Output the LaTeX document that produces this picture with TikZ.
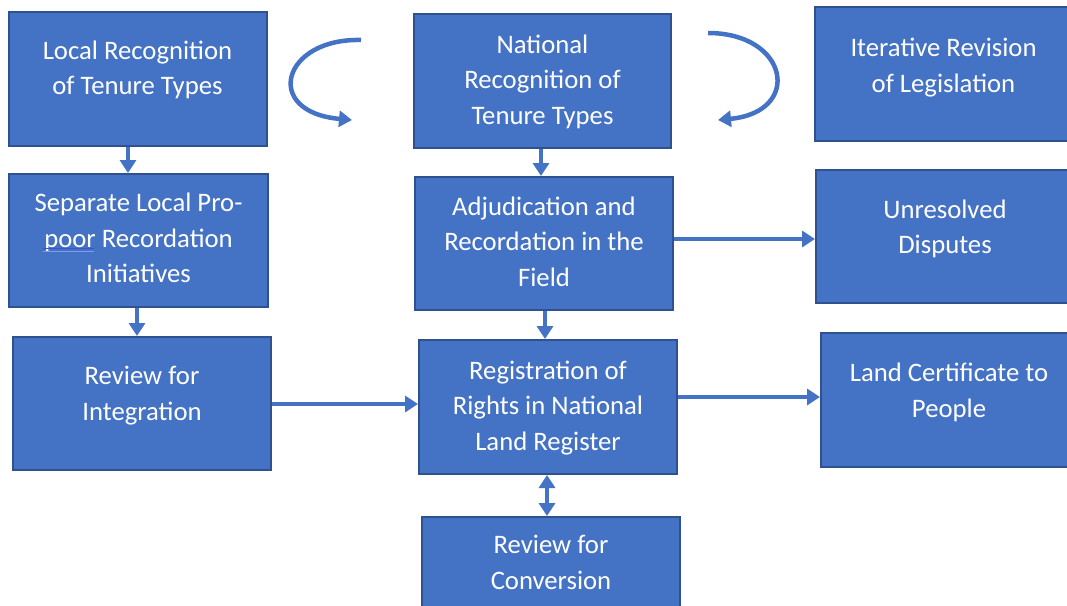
\documentclass[tikz,border=0pt]{standalone}
\usepackage{fontspec}
\setmainfont{Carlito}
\usetikzlibrary{arrows.meta}
\definecolor{boxfill}{HTML}{4472C4}
\definecolor{boxline}{HTML}{2F528F}
\definecolor{arrcol}{HTML}{4472C4}
\definecolor{squig}{HTML}{3355D6}
\tikzset{
  box/.style={rectangle, draw=boxline, line width=2pt, fill=boxfill, minimum width=258pt, minimum height=134pt, inner sep=0pt},
  txt/.style={align=center, text=white, inner sep=0pt, font=\fontsize{26.7}{35.5}\selectfont},
  arr/.style={draw=arrcol, line width=4.5pt, -{Triangle[length=13pt,width=16pt]}},
  dblarr/.style={draw=arrcol, line width=4.5pt, {Triangle[length=13pt,width=16pt]}-{Triangle[length=13pt,width=16pt]}},
}
\begin{document}
\begin{tikzpicture}[x=1pt,y=-1pt]
\useasboundingbox (0,0) rectangle (1067,605);
\fill[white] (0,0) rectangle (1067,605);
\clip (0,0) rectangle (1067,605);
% boxes
\node[box, minimum width=258pt, minimum height=134pt] (lr) at (138,79) {};
\node[box, minimum width=257pt, minimum height=134pt] (nr) at (542.5,81) {};
\node[box, minimum width=258pt, minimum height=134pt] (ir) at (944,74) {};
\node[box, minimum width=259pt, minimum height=133pt] (sl) at (138.5,240.5) {};
\node[box, minimum width=258pt, minimum height=133pt] (ad) at (544,243.5) {};
\node[box, minimum width=258pt, minimum height=133pt] (ur) at (945,236.5) {};
\node[box, minimum width=258pt, minimum height=133pt] (ri) at (142,403.5) {};
\node[box, minimum width=258pt, minimum height=134pt] (rr) at (548,407) {};
\node[box, minimum width=258pt, minimum height=134pt] (lc) at (950,400) {};
\node[box, minimum width=258pt, minimum height=134pt] (rc) at (551,584) {};
% texts (anchor = baseline of last line)
\node[txt, anchor=base] (lrt) at (137.5,94.5) {Local Recognition\\of Tenure Types};
\node[txt, anchor=base] (nrt) at (542.5,124) {National\\Recognition of\\Tenure Types};
\node[txt, anchor=base] (irt) at (943.5,92) {Iterative Revision\\of Legislation};
\node[txt, anchor=base] (slt) at (138.5,282.5) {Separate Local Pro-\\poor Recordation\\Initiatives};
\node[txt, anchor=base] (adt) at (544,286) {Adjudication and\\Recordation in the\\Field};
\node[txt, anchor=base] (urt) at (945,253.5) {Unresolved\\Disputes};
\node[txt, anchor=base] (rit) at (142,420) {Review for\\Integration};
\node[txt, anchor=base] (rrt) at (548,450) {Registration of\\Rights in National\\Land Register};
\node[txt, anchor=base] (lct) at (949,417) {Land Certificate to\\People};
\node[txt, anchor=base] (rct) at (551,589) {Review for\\Conversion};
% spell-check underline under "poor"
\draw[squig, line width=0.8pt] (43,248.5) -- (94,248.5);
\draw[squig!60, line width=0.8pt] (43,251) -- (94,251);
% straight connectors
\draw[arr] ([xshift=-10pt]lr.south) -- ([xshift=-10.5pt]sl.north);
\draw[arr] ([xshift=-1.5pt]sl.south) -- ([xshift=-5pt]ri.north);
\draw[arr] ([xshift=-1.5pt]nr.south) -- ([xshift=-3pt]ad.north);
\draw[arr] ([xshift=1pt]ad.south) -- ([xshift=-3pt]rr.north);
\draw[dblarr] ([xshift=-1pt]rr.south) -- ([xshift=-4pt]rc.north);
\draw[arr] ([yshift=4.5pt]ad.east) -- ([yshift=-2.5pt]ur.west);
\draw[arr] ([yshift=-0.5pt]ri.east) -- ([yshift=3pt]rr.west);
\draw[arr] ([yshift=10pt]rr.east) -- ([yshift=3pt]lc.west);
% curved arrows
\coordinate (c1s) at (361,40);
\coordinate (c1e) at (352,120);
\coordinate (c2s) at (708,33);
\coordinate (c2e) at (718,120);
\draw[arr] (c1s) .. controls (282,38) and (262,112) .. (c1e);
\draw[arr] (c2s) .. controls (789,33) and (803,112) .. (c2e);
\end{tikzpicture}
\end{document}
